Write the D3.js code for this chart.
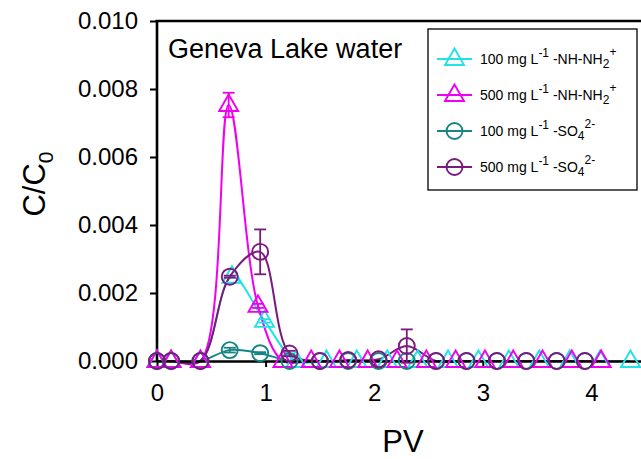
<!DOCTYPE html>
<html>
<head>
<meta charset="utf-8">
<script src="https://cdn.jsdelivr.net/npm/d3@7"></script>
<style>
  html, body { margin: 0; padding: 0; background: #fff; }
  svg { display: block; font-family: Arial, "Liberation Sans", sans-serif; }
</style>
</head>
<body>
<svg id="chart" width="641" height="459"></svg>
<script>
// ---------- data ----------
const pvNH100 = [0, 0.13, 0.4, 0.69, 0.99, 1.28, 1.56, 1.84, 2.12, 2.40, 2.68, 2.96, 3.24, 3.52, 3.80, 4.08, 4.36];
const cNH100  = [0, 0, 0, 0.00248, 0.00118, 0, 0, 0, 0, 0, 0, 0, 0, 0, 0, 0, 0];
const eNH100  = [0, 0, 0, 0, 0.00005, 0, 0, 0, 0, 0, 0, 0, 0, 0, 0, 0, 0];

const pvNH500 = [0, 0.13, 0.4, 0.66, 0.93, 1.16, 1.42, 1.68, 1.94, 2.21, 2.48, 2.75, 3.02, 3.28, 3.55, 3.82, 4.09];
const cNH500  = [0, 0, 0, 0.00753, 0.00162, 0, 0, 0, 0, 0, 0, 0, 0, 0, 0, 0, 0];
const eNH500  = [0, 0, 0, 0.00036, 0.00006, 0, 0, 0, 0, 0, 0, 0, 0, 0, 0, 0, 0];

const pvSO = [0, 0.13, 0.4, 0.67, 0.95, 1.22, 1.5, 1.76, 2.04, 2.30, 2.57, 2.85, 3.13, 3.40, 3.68, 3.94];
const cSO100 = [0, 0, 0, 0.00032, 0.00023, 0, 0, 0, 0, 0, 0, 0, 0, 0, 0, 0];
const eSO100 = [0, 0, 0, 0.00007, 0.00003, 0, 0, 0, 0, 0, 0, 0, 0, 0, 0, 0];
const cSO500 = [0, 0, 0, 0.00248, 0.00321, 0.00022, 0, 0.00003, 0.00005, 0.00044, 0, 0, 0, 0, 0, 0];
const eSO500 = [0, 0, 0, 0.00003, 0.00066, 0.00008, 0, 0, 0, 0.00049, 0, 0, 0, 0, 0, 0];

const xTicks = [0, 1, 2, 3, 4];
const yTicks = [0, 0.002, 0.004, 0.006, 0.008, 0.010];

const colors = ["#22e3e3", "#f000f0", "#178585", "#7a1a7e"];

// ---------- layout ----------
const svg = d3.select("#chart");
const x = d3.scaleLinear().domain([0, 4.6]).range([157, 157 + 4.6 * 108.6]);
const y = d3.scaleLinear().domain([0, 0.010]).range([361, 21]);

const series = [
  {pv: pvNH100, c: cNH100, e: eNH100, color: colors[0], shape: "tri"},
  {pv: pvNH500, c: cNH500, e: eNH500, color: colors[1], shape: "tri"},
  {pv: pvSO,    c: cSO100, e: eSO100, color: colors[2], shape: "circ"},
  {pv: pvSO,    c: cSO500, e: eSO500, color: colors[3], shape: "circ"}
];

const triPath = "M0,-10.5L9.5,6L-9.5,6Z";

// lines
const line = d3.line().x(d => x(d[0])).y(d => y(d[1])).curve(d3.curveCatmullRom.alpha(0.5));
series.forEach(s => {
  const pts = s.pv.map((p, i) => [p, s.c[i]]);
  svg.append("path").attr("d", line(pts)).attr("fill", "none")
    .attr("stroke", s.color).attr("stroke-width", 2);
});

// axes
const yAxis = svg.append("g").attr("transform", "translate(157,0)")
  .call(d3.axisLeft(y).tickValues(yTicks).tickFormat(d3.format(".3f")).tickSize(7).tickPadding(12).tickSizeOuter(0));
const xAxis = svg.append("g").attr("transform", "translate(0,361)")
  .call(d3.axisBottom(x).tickValues(xTicks).tickFormat(d3.format("d")).tickSize(6).tickPadding(17).tickSizeOuter(0));
[yAxis, xAxis].forEach(g => {
  g.select(".domain").attr("stroke", "#000").attr("stroke-width", 2.6);
  g.selectAll(".tick line").attr("stroke", "#000").attr("stroke-width", 2);
  g.selectAll(".tick text").attr("fill", "#000").attr("font-size", 24)
    .attr("font-family", "Arial, 'Liberation Sans', sans-serif");
});
yAxis.select(".domain").attr("d", "M0," + (y(0.010) - 1) + "V" + y(0));
// top frame
svg.append("line").attr("x1", 155.7).attr("x2", x(4.6)).attr("y1", y(0.010)).attr("y2", y(0.010))
  .attr("stroke", "#000").attr("stroke-width", 2.6);

// markers and error bars
series.forEach(s => {
  const g = svg.append("g");
  s.pv.forEach((p, i) => {
    const cx = x(p), cy = y(s.c[i]);
    if (s.e[i] > 0) {
      const y1 = y(s.c[i] + s.e[i]), y2 = y(s.c[i] - s.e[i]);
      g.append("line").attr("x1", cx).attr("x2", cx).attr("y1", y1).attr("y2", y2)
        .attr("stroke", s.color).attr("stroke-width", 1.8);
      [y1, y2].forEach(yy => g.append("line").attr("x1", cx - 6).attr("x2", cx + 6)
        .attr("y1", yy).attr("y2", yy).attr("stroke", s.color).attr("stroke-width", 1.8));
    }
    if (s.shape === "tri") {
      g.append("path").attr("d", triPath).attr("transform", `translate(${cx},${cy})`)
        .attr("fill", "none").attr("stroke", s.color).attr("stroke-width", 1.9);
    } else {
      g.append("circle").attr("cx", cx).attr("cy", cy).attr("r", 8)
        .attr("fill", "none").attr("stroke", s.color).attr("stroke-width", 1.9);
    }
  });
});

// title
svg.append("text").attr("x", 168).attr("y", 58).attr("font-size", 27).attr("fill", "#000")
  .text("Geneva Lake water");

// axis labels
svg.append("text").attr("x", 403).attr("y", 452).attr("text-anchor", "middle")
  .attr("font-size", 31).attr("fill", "#000").text("PV");
const yl = svg.append("text").attr("transform", "translate(45,184) rotate(-90)")
  .attr("text-anchor", "middle").attr("font-size", 31).attr("fill", "#000");
yl.append("tspan").text("C/C");
yl.append("tspan").attr("font-size", 21).attr("dy", 8).text("0");

// legend
const leg = svg.append("g");
leg.append("rect").attr("x", 428).attr("y", 29).attr("width", 209).attr("height", 161)
  .attr("fill", "#fff").attr("stroke", "#000").attr("stroke-width", 1.3);
const legY = [59, 95, 131, 167];
const legLabels = [
  ["100 mg L", "-1", " -NH-NH", "2", "+"],
  ["500 mg L", "-1", " -NH-NH", "2", "+"],
  ["100 mg L", "-1", " -SO", "4", "2-"],
  ["500 mg L", "-1", " -SO", "4", "2-"]
];
series.forEach((s, i) => {
  const ly = legY[i];
  leg.append("line").attr("x1", 437).attr("x2", 472).attr("y1", ly).attr("y2", ly)
    .attr("stroke", s.color).attr("stroke-width", 2);
  if (s.shape === "tri") {
    leg.append("path").attr("d", triPath).attr("transform", `translate(454.5,${ly})`)
      .attr("fill", "none").attr("stroke", s.color).attr("stroke-width", 1.9);
  } else {
    leg.append("circle").attr("cx", 454.5).attr("cy", ly).attr("r", 8)
      .attr("fill", "none").attr("stroke", s.color).attr("stroke-width", 1.9);
  }
  const t = leg.append("text").attr("x", 480).attr("y", ly + 5).attr("font-size", 14).attr("fill", "#000");
  const L = legLabels[i];
  t.append("tspan").text(L[0]);
  t.append("tspan").attr("font-size", 12).attr("dy", -7).text(L[1]);
  t.append("tspan").attr("dy", 7).text(L[2]);
  t.append("tspan").attr("font-size", 12).attr("dy", 4).text(L[3]);
  t.append("tspan").attr("font-size", 12).attr("dy", -12).text(L[4]);
});
</script>
</body>
</html>
